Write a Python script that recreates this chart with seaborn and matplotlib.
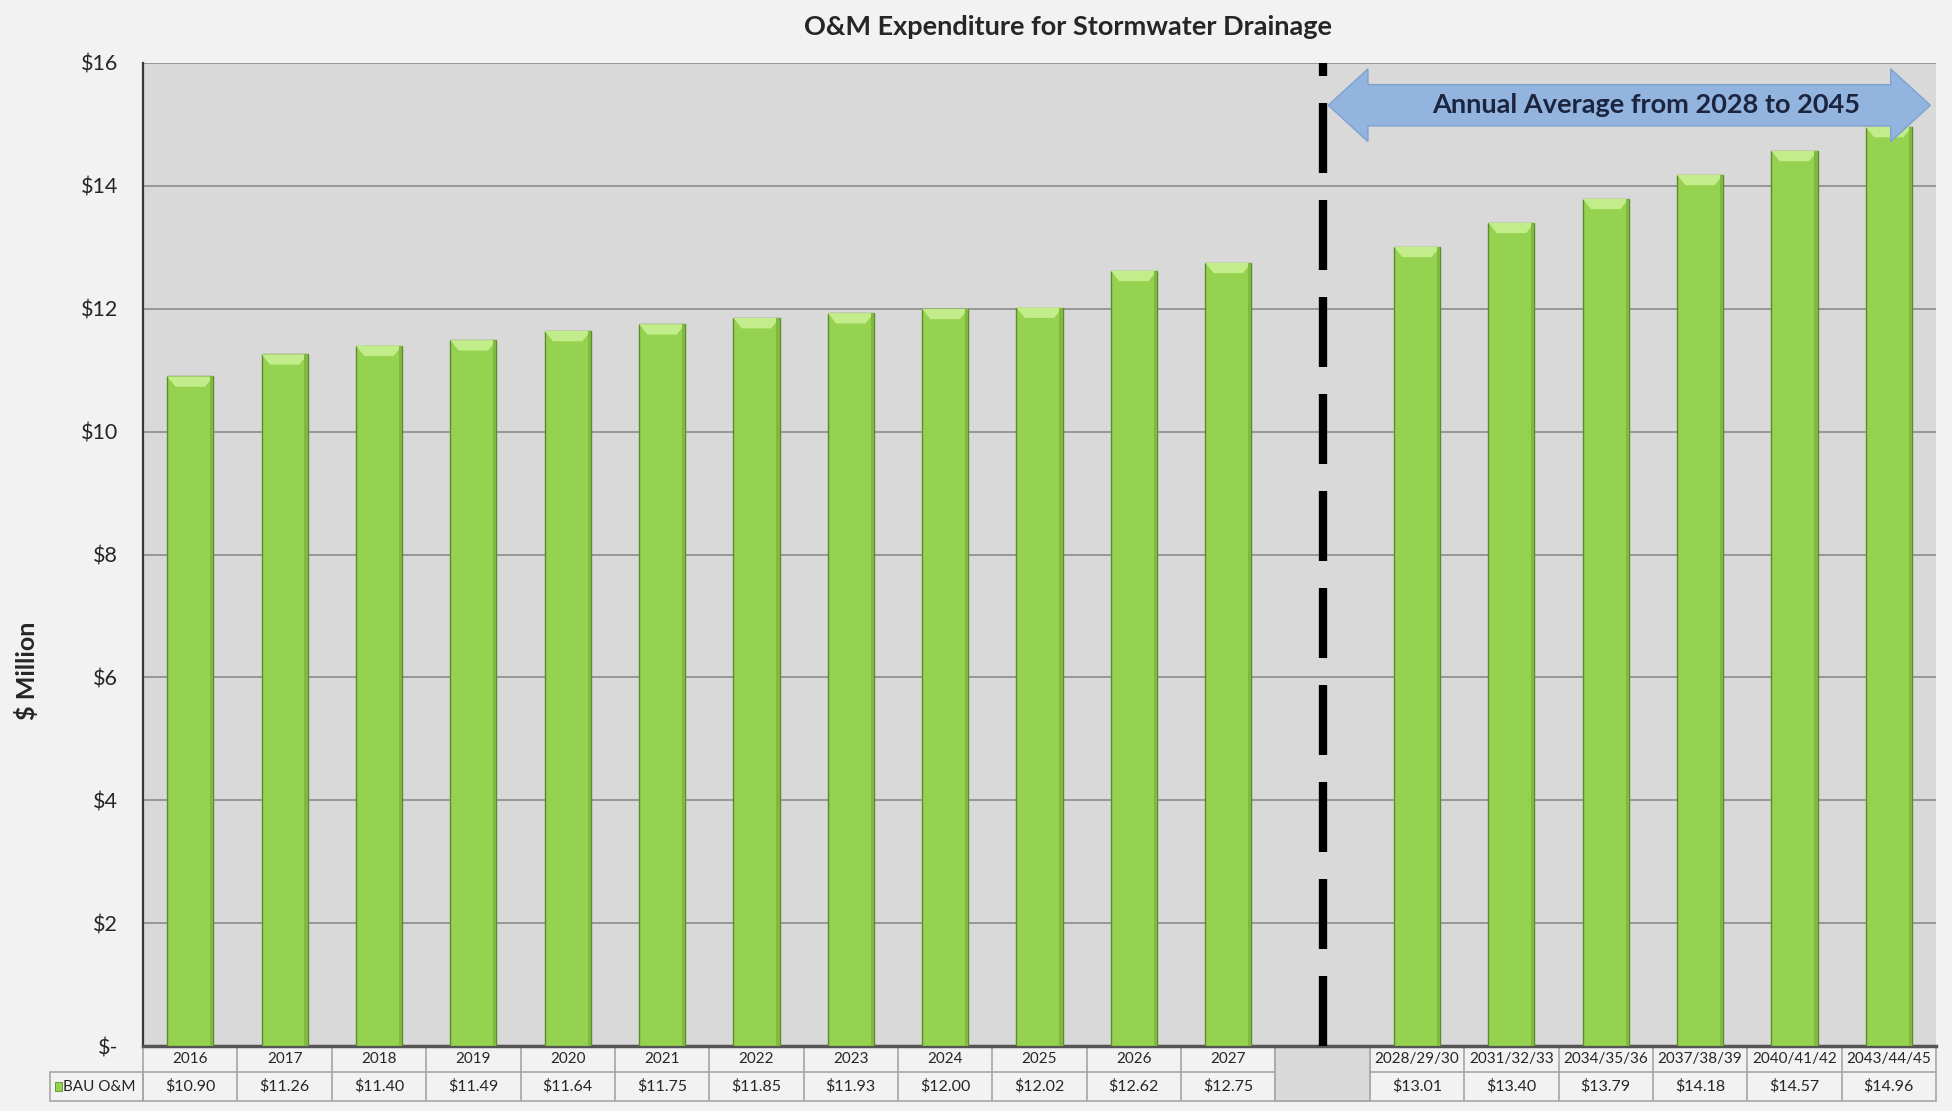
import numpy as np
import pandas as pd
import seaborn as sns
import matplotlib.pyplot as plt
import matplotlib.patches as mpatches

# chart data
years = ["2016", "2017", "2018", "2019", "2020", "2021", "2022", "2023", "2024", "2025", "2026", "2027",
         " ", "2028/29/30", "2031/32/33", "2034/35/36", "2037/38/39", "2040/41/42", "2043/44/45"]
bau_om = [10.90, 11.26, 11.40, 11.49, 11.64, 11.75, 11.85, 11.93, 12.00, 12.02, 12.62, 12.75,
          np.nan, 13.01, 13.40, 13.79, 14.18, 14.57, 14.96]
yticks = [0, 2, 4, 6, 8, 10, 12, 14, 16]
ytick_labels = ["$-", "$2", "$4", "$6", "$8", "$10", "$12", "$14", "$16"]
series_name = "BAU O&M"
title = "O&M Expenditure for Stormwater Drainage"
arrow_text = "Annual Average from 2028 to 2045"

sns.set_style("white")
plt.rcParams["font.family"] = ["Lato", "DejaVu Sans"]

df = pd.DataFrame({"period": years, "value": bau_om})

fig = plt.figure(figsize=(19.52, 11.11), dpi=100, facecolor="#f2f2f2")
ax = fig.add_axes([0.0733, 0.0585, 0.9185, 0.8848])
ax.set_facecolor("#d9d9d9")

sns.barplot(data=df, x="period", y="value", order=years, color="#94d24f",
            width=0.49, errorbar=None, saturation=1, edgecolor="#5d8a2c", linewidth=1, ax=ax, zorder=3)

# bevel highlight on top of each bar
for p in ax.patches:
    h = p.get_height()
    if np.isnan(h) or h == 0:
        continue
    x0 = p.get_x()
    w = p.get_width()
    top = p.get_y() + h
    bh, dx = 0.17, 0.09
    ax.add_patch(mpatches.Polygon([(x0, top), (x0 + w, top), (x0 + w - dx, top - bh), (x0 + dx, top - bh)],
                                  closed=True, fc="#c3ec8a", ec="none", zorder=4))
    ax.add_patch(mpatches.Rectangle((x0 + w - 0.035, 0), 0.035, top, fc="#7fb940", ec="none", zorder=4))

ax.set_xlim(-0.5, len(years) - 0.5)
ax.set_ylim(0, 16)
ax.set_yticks(yticks)
ax.set_yticklabels(ytick_labels, fontsize=15.5, color="#262626")
ax.tick_params(axis="y", length=0, pad=18)
ax.set_xticks([])
ax.set_xlabel("")
ax.set_ylabel("")
ax.grid(axis="y", color="#858585", linewidth=1.1, zorder=1)
ax.set_axisbelow(True)
for s in ["top", "right"]:
    ax.spines[s].set_visible(False)
ax.spines["left"].set_color("#3a3a3a")
ax.spines["left"].set_linewidth(1.6)
ax.spines["bottom"].set_color("#555555")
ax.spines["bottom"].set_linewidth(2.5)

# divider between yearly and averaged values (drawn top to bottom, short dash at top)
blank = years.index(" ")
ax.plot([blank, blank], [1, 0], transform=ax.get_xaxis_transform(), color="black", linewidth=6,
        linestyle=(6.84, (8.4, 3.24)), solid_capstyle="butt", dash_capstyle="butt", clip_on=False, zorder=5)

# double headed arrow with caption
ay, sh, hh = 0.957, 0.021, 0.037
lx, rx, hl = 12.06, 18.44, 0.42
tr = ax.get_xaxis_transform()
arrow = mpatches.Polygon([(lx, ay), (lx + hl, ay + hh), (lx + hl, ay + sh), (rx - hl, ay + sh), (rx - hl, ay + hh),
                          (rx, ay), (rx - hl, ay - hh), (rx - hl, ay - sh), (lx + hl, ay - sh), (lx + hl, ay - hh)],
                         closed=True, fc="#92b4de", ec="#7ea3d0", lw=1, transform=tr, clip_on=False, zorder=6)
ax.add_patch(arrow)
ax.text(15.43, ay, arrow_text, transform=tr, ha="center", va="center", fontsize=19.5,
        fontweight="bold", color="#1b2540", zorder=7)

# data table under the axis
r0, r1, r2 = 0.0, -0.0265, -0.056
lab_left = -0.052
line_kw = dict(color="#a6a6a6", linewidth=1.2, clip_on=False, zorder=2)
n = len(years)
ax.plot([-0.5, n - 0.5], [r1, r1], transform=tr, **line_kw)
ax.plot([-0.5, n - 0.5], [r2, r2], transform=tr, **line_kw)
for i in range(n + 1):
    ax.plot([i - 0.5, i - 0.5], [r0, r2], transform=tr, **line_kw)
ax.add_patch(mpatches.Rectangle((blank - 0.5, r2), 1, r0 - r2, transform=tr, fc="#d9d9d9",
                                ec="#a6a6a6", lw=1.2, clip_on=False, zorder=2))
for i, (lab, v) in enumerate(zip(years, bau_om)):
    if np.isnan(v):
        continue
    ax.text(i, (r0 + r1) / 2, lab, transform=tr, ha="center", va="center", fontsize=11, color="#262626")
    ax.text(i, (r1 + r2) / 2, f"${v:.2f}", transform=tr, ha="center", va="center", fontsize=11.5, color="#262626")

# row label cell with legend key
ax.add_patch(mpatches.Rectangle((lab_left, r2), -lab_left, r1 - r2, transform=ax.transAxes, fc="none",
                                ec="#a6a6a6", lw=1.2, clip_on=False))
ax.add_patch(mpatches.Rectangle((lab_left + 0.0028, (r1 + r2) / 2 - 0.0045), 0.0038, 0.009, transform=ax.transAxes,
                                fc="#94d24f", ec="#5d8a2c", lw=0.6, clip_on=False))
ax.text(lab_left + 0.0075, (r1 + r2) / 2, series_name, transform=ax.transAxes, ha="left", va="center",
        fontsize=11, color="#262626")

fig.text(0.547, 0.976, title, ha="center", va="center", fontsize=19.5, fontweight="bold", color="#262626")
fig.text(0.0138, 0.396, "$ Million", ha="center", va="center", rotation=90, fontsize=18,
         fontweight="bold", color="#262626")

fig.savefig("out.png", dpi=100, facecolor=fig.get_facecolor())
